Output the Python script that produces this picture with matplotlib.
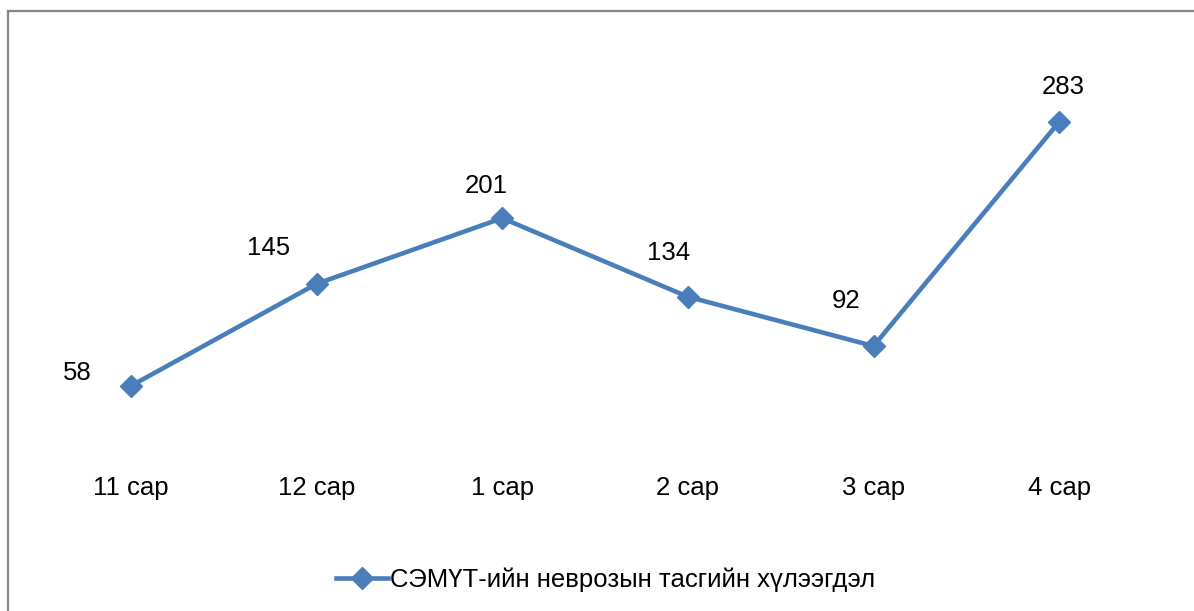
import matplotlib
matplotlib.use("Agg")
import matplotlib.pyplot as plt
from matplotlib.lines import Line2D

# data
months = ["11 сар", "12 сар", "1 сар", "2 сар", "3 сар", "4 сар"]
waiting = [58, 145, 201, 134, 92, 283]
series_name = "СЭМҮТ-ийн неврозын тасгийн хүлээгдэл"

# label offsets (pixels) relative to each point, as placed in the original
label_offsets = [(-54, 13), (-48, 36), (-16, 32), (-19, 44), (-27, 45), (4, 35)]

plt.rcParams['font.family'] = ['Liberation Sans', 'DejaVu Sans']
color = "#4a7ebb"
fs = 18.5

fig = plt.figure(figsize=(11.94, 6.11), dpi=100)
ax = fig.add_axes([38 / 1194, 1 - 454 / 611, (1152 - 38) / 1194, (454 - 102) / 611])

x = range(len(months))
ax.plot(x, waiting, color=color, linewidth=3.3, marker="D", markersize=11,
        label=series_name)

for i, v in enumerate(waiting):
    dx, dy = label_offsets[i]
    ax.annotate(str(v), (i, v), xytext=(dx, dy), textcoords="offset pixels",
                ha="center", va="center", fontsize=fs)

ax.set_xlim(-0.5, len(months) - 0.5)
ax.set_ylim(0, 300)
ax.set_xticks(list(x))
ax.set_xticklabels(months, fontsize=fs)
ax.tick_params(axis="x", length=0, pad=16)
ax.set_yticks([])
for s in ax.spines.values():
    s.set_visible(False)

# chart border (left and top visible)
fig.add_artist(Line2D([7.5 / 1194, 7.5 / 1194], [0, 1 - 10.5 / 611],
                      transform=fig.transFigure, color="#868686", linewidth=1.6))
fig.add_artist(Line2D([7.5 / 1194, 1], [1 - 10.5 / 611, 1 - 10.5 / 611],
                      transform=fig.transFigure, color="#868686", linewidth=1.6))

fig.legend(loc="center", bbox_to_anchor=(0.5 + 9 / 1194, 1 - 580 / 611), frameon=False,
           fontsize=fs, handlelength=2.0, handletextpad=0.1)

fig.savefig("out.png", dpi=100, facecolor="white")
